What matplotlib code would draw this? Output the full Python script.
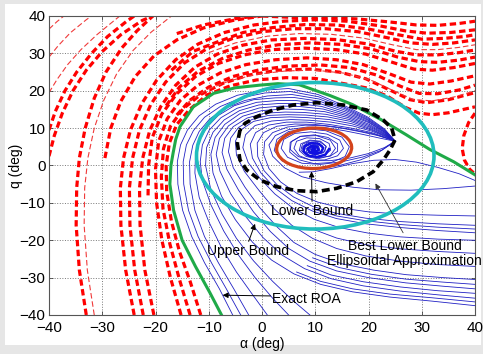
import matplotlib
matplotlib.use('Agg')
import matplotlib.pyplot as plt
from matplotlib.patches import Ellipse, Rectangle

plt.rcParams['font.family'] = ['Liberation Sans', 'DejaVu Sans']

# ---------------- data (alpha, q) in degrees ----------------
# trajectories leaving the region of attraction (red dashed)
red_edge_1 = [(-40, 2.5), (-39, 8), (-37.5, 14), (-35.5, 20), (-33, 25.5), (-30, 30.5), (-26.5, 35), (-22.5, 38.8), (-20.5, 40)]
red_edge_2 = [(-40, 9.5), (-38.8, 14.5), (-37, 20), (-34.8, 25), (-32, 30), (-29, 34.5), (-25.5, 38.5), (-24, 40)]
red_edge_3 = [(-40, 19.5), (-38.5, 23), (-36.5, 27), (-34, 31), (-31, 35), (-28, 38.5), (-26.7, 40)]
red_edge_4 = [(-40, 29), (-38.3, 32), (-36, 35.5), (-33, 39), (-32, 40)]
red_edge_5 = [(-40, 36.5), (-38.5, 38.5), (-37.2, 40)]

red_arc_1 = [(-33, -40), (-34.3, -28), (-34.9, -16), (-34.8, -6), (-34.3, 2), (-33.2, 10), (-31.5, 18),
             (-29.3, 25), (-26.3, 31.5), (-23.5, 36), (-20.5, 40)]
red_arc_2 = [(-31.5, -40), (-32.8, -28), (-33.4, -16), (-33.3, -6), (-32.7, 2), (-31.5, 10), (-29.7, 17.5),
             (-27.3, 24.5), (-24.2, 30.8), (-20.8, 35.7), (-17, 40)]
red_arc_3 = [(-29.5, 2), (-28.4, 10), (-26.5, 17.2), (-23.8, 23.8), (-20.3, 29.3), (-16, 33.6), (-11, 36.8),
             (-5.5, 38.8), (0, 40)]
red_arc_4 = [(-24, -40), (-25.6, -28), (-26.5, -16), (-26.6, -6), (-26, 2), (-24.7, 9.5), (-22.6, 16.5),
             (-19.8, 22.8), (-16.2, 28.3), (-12, 32.5), (-7, 35.6), (-1.5, 37.6), (4, 38.6), (10, 39),
             (16, 38.6), (22, 37.4), (27, 36), (31, 35.4), (35.5, 35.6), (40, 36.3)]
red_arc_5 = [(-22.3, -40), (-23.9, -28), (-24.8, -16), (-24.9, -6), (-24.3, 2), (-23, 9.5), (-20.9, 16.3),
             (-18.1, 22.3), (-14.5, 27.5), (-10.3, 31.3), (-5.5, 34), (0, 35.8), (6, 36.6), (12, 36.6),
             (18, 35.8), (23.5, 34.2), (28, 32.8), (32, 32.4), (36, 32.8), (40, 33.6)]
red_arc_6 = [(-20.3, -40), (-22, -28), (-22.9, -16), (-23, -6), (-22.4, 2), (-21.1, 9.3), (-19, 15.8),
             (-16.2, 21.5), (-12.6, 26.3), (-8.4, 29.8), (-3.6, 32.2), (1.8, 33.6), (8, 34), (14, 33.7),
             (20, 32.5), (25, 30.6), (29, 29.6), (33, 29.6), (37, 30.2), (40, 30.9)]
red_arc_7 = [(-21.4, -8), (-21.3, 0), (-20.6, 7.5), (-18.8, 13.8), (-16, 19.2), (-12.5, 23.8), (-8.2, 27.3),
             (-3.3, 29.6), (2, 31), (8, 31.4), (14, 31), (19.5, 29.8), (24.5, 27.6), (28.5, 25.8),
             (32, 25.5), (36, 26.2), (40, 27.3)]
red_arc_8 = [(-15.2, -40), (-17.2, -30), (-18.8, -20), (-19.8, -10), (-20, -1), (-19.4, 6.5), (-17.8, 12.5),
             (-15.3, 17.5), (-12, 21.5), (-7.8, 24.8), (-3, 27), (2.5, 28.3), (8.5, 28.8), (14, 28.3),
             (19, 27), (24, 24.5), (28, 22.3), (31.5, 21.8), (35.5, 22.6), (40, 24)]
red_arc_9 = [(-13.5, -40), (-15.5, -30.5), (-17.3, -21), (-18.6, -11.5), (-18.9, -3), (-18.5, 4.5),
             (-17.2, 10.5), (-14.8, 15.2), (-11.5, 19), (-7.3, 22), (-2.5, 24.2), (3, 25.5), (9, 25.8),
             (14.5, 25), (19.5, 23.2), (24, 20.2), (27.8, 17.6), (31, 16.8), (35, 17.6), (40, 19.5)]
red_arc_10 = [(-11.5, -40), (-13.5, -31), (-15.5, -23), (-17, -15), (-17.9, -7), (-18, 0), (-17.4, 6),
              (-16, 11), (-13.6, 15), (-10.3, 18.9), (-6, 21.3), (-1, 22.9), (4.5, 23.5), (10, 23.3),
              (15, 22), (19.5, 20.8), (23.5, 18.6), (27, 15.5), (29.5, 14), (32, 13.6), (35, 14.1), (40, 15.7)]
red_band_a = [(-16, 13.5), (-13.5, 17.5), (-10, 21), (-5.5, 23.8), (-0.5, 25.6), (5, 26.6), (11, 26.9),
              (16.5, 26.2), (21.5, 24.2), (26, 21.2), (29.5, 19.3), (33, 19.2), (37, 20.2), (40, 21.5)]
red_band_b = [(-18, 16), (-15.5, 21), (-12, 25.2), (-7.5, 28.6), (-2.5, 30.9), (3, 32.3), (9, 32.8),
              (15, 32.4), (20.5, 31.2), (25.5, 29), (29.5, 27.8), (33, 27.6), (37, 28.2), (40, 29)]
red_band_c = [(-17, 25.5), (-13, 30.5), (-8.5, 33), (-3.5, 35.6), (2, 36.9), (8, 37.7), (14, 37.6),
              (20, 36.5), (25.5, 35), (30, 33.8), (34, 34), (38, 34.5), (40, 35)]
red_band_d = [(-16, 35.3), (-11, 37.6), (-5, 39.3), (-1, 40)]
red_top = [(0, 40), (6, 39.6), (12, 39.6), (18, 39.2), (24, 38.4), (29, 37.6), (33, 37.5), (37, 38), (40, 38.6)]
red_right = [(40, 14), (38.8, 11.5), (37.9, 8), (37.6, 4.5), (38, 1.5), (39, -1), (40, -2.3)]
red_thin_a = [(-14, 16.8), (-10.5, 20.2), (-6, 22.7), (-1, 24.4), (4.5, 25.3), (10, 25.5), (15.5, 24.7),
              (20.5, 22.8), (25, 19.8), (28.5, 17.6), (32, 17.3), (36, 18.3), (40, 20)]
red_thin_b = [(-10, 30.2), (-5, 32.8), (1, 34.6), (7, 35.3), (13, 35.1), (19, 34.1), (24.5, 32.3),
              (29, 31), (33, 31), (37, 31.6), (40, 32.3)]

red_thick = [red_edge_1, red_edge_2, red_arc_1, red_arc_3, red_arc_4, red_arc_5, red_arc_6,
             red_arc_7, red_arc_8, red_arc_9, red_arc_10, red_band_a, red_band_b, red_band_c,
             red_band_d, red_top, red_right]
red_thin = [red_edge_3, red_edge_4, red_edge_5, red_arc_2, red_thin_a, red_thin_b]

# converging trajectories (blue)
blue_c1 = [(-5.5, -40), (-8, -33), (-10.8, -26), (-13.2, -19), (-14.9, -12), (-15.8, -5), (-15.9, 1),
           (-15.3, 5.5), (-14, 9.5), (-11.8, 13.3), (-8.7, 16.4), (-4.6, 18.8), (0, 20.1), (5, 20.6),
           (10.5, 19), (15.5, 16), (19.8, 13), (23, 9.8), (25, 6.5)]
blue_c2 = [(-4, -40), (-6.7, -33), (-9.5, -26), (-12, -19), (-13.8, -12), (-14.7, -5), (-14.8, 1),
           (-14.2, 5.5), (-12.9, 9.3), (-10.8, 12.9), (-7.8, 15.8), (-3.9, 18.1), (0.5, 19.4), (5.3, 19.8),
           (10.6, 18.4), (15.5, 15.6), (19.8, 12.7), (23, 9.6), (25, 6.5)]
blue_c3 = [(-2.5, -40), (-5.3, -33), (-8.2, -26), (-10.8, -19), (-12.6, -12), (-13.5, -5), (-13.6, 1),
           (-13, 5.4), (-11.8, 9.1), (-9.8, 12.5), (-6.9, 15.3), (-3.2, 17.4), (1, 18.6), (5.6, 19),
           (10.7, 17.8), (15.6, 15.2), (19.8, 12.4), (23, 9.4), (25, 6.5)]
blue_d1 = [(1, -40), (-1.8, -34.5), (-4.8, -28.5), (-7.6, -22), (-10, -15), (-11.8, -8.5), (-12.6, -2),
           (-12.5, 2.5), (-11.8, 6.5), (-10.4, 10.2), (-8.2, 13.4), (-5.2, 16), (-1.6, 17.6), (2.5, 18.1),
           (6, 18.2), (10.8, 17.2), (15.6, 14.8), (19.9, 12.1), (23, 9.2), (25, 6.5)]
blue_d2 = [(5, -40), (2, -35.5), (-1.3, -30), (-4.4, -24), (-7.2, -17.5), (-9.6, -10.5), (-11.2, -4),
           (-11.6, 1), (-11.2, 5.5), (-9.9, 9.5), (-7.7, 12.8), (-4.7, 15.3), (-1, 16.9), (3, 17.4),
           (6.3, 17.4), (11, 16.5), (15.7, 14.3), (19.9, 11.8), (23, 9), (25, 6.5)]
blue_d3 = [(9, -40), (5.7, -36), (2, -31), (-1.6, -25.5), (-4.8, -19.5), (-7.5, -13), (-9.6, -6.5),
           (-10.6, 0), (-10.4, 4.8), (-9.2, 8.9), (-7.1, 12.2), (-4.2, 14.7), (-0.6, 16.2), (3.3, 16.6),
           (6.6, 16.6), (11.2, 15.8), (15.8, 13.8), (20, 11.5), (23.1, 8.8), (25, 6.5)]
blue_c4 = [(40, -37.5), (32, -36.3), (24, -35.2), (17, -33.8), (11, -31.8), (6, -29), (1.8, -25.3),
           (-1.8, -20.5), (-5, -14.5), (-7.6, -8.2), (-9.2, -2), (-9.6, 3), (-8.8, 7.5), (-7, 11),
           (-4.2, 13.8), (-0.5, 15.4), (3.5, 15.9), (7, 15.8), (11.5, 15.1), (16, 13.3), (20, 11.1),
           (23.1, 8.6), (25, 6.5)]
blue_c5 = [(40, -35.5), (33, -34.6), (26, -33.6), (19, -32.2), (13, -30.3), (8, -27.6), (3.8, -24),
           (0.2, -19.3), (-3.1, -13.6), (-5.9, -7.5), (-7.9, -1.5), (-8.6, 3), (-8, 7.2), (-6.3, 10.6),
           (-3.6, 13.2), (0, 14.7), (4, 15.1), (7.4, 15), (11.8, 14.4), (16.2, 12.8), (20.1, 10.7),
           (23.1, 8.4), (25, 6.5)]
blue_c6 = [(40, -33), (34, -32.3), (27, -31.4), (20, -30), (14, -28.2), (9, -25.6), (5, -22.2),
           (1.6, -17.7), (-1.6, -12.4), (-4.4, -6.6), (-6.6, -1), (-7.5, 3.5), (-7, 7.3), (-5.4, 10.4),
           (-2.8, 12.7), (0.6, 14), (4.4, 14.3), (7.8, 14.2), (12, 13.7), (16.4, 12.3), (20.2, 10.3),
           (23.2, 8.2), (25, 6.5)]
blue_c7 = [(40, -30.5), (34, -30), (27, -29.2), (21, -28), (15, -26.3), (10, -23.8), (6, -20.6),
           (2.8, -16.4), (-0.4, -11.3), (-3.2, -5.8), (-5.4, -0.6), (-6.3, 3.7), (-5.9, 7.3), (-4.4, 10.2),
           (-1.9, 12.3), (1.2, 13.4), (4.8, 13.6), (8.2, 13.5), (12.3, 13), (16.6, 11.8), (20.3, 9.9),
           (23.2, 8), (25, 6.5)]
blue_c8 = [(40, -27), (33, -26.5), (26, -25.6), (19.5, -24.2), (14, -22.2), (9.5, -19.5), (5.6, -16),
           (2.3, -11.6), (-0.6, -6.6), (-3.3, -1.6), (-4.8, 2.8), (-5, 6.5), (-3.9, 9.6), (-1.6, 11.8),
           (1.6, 12.8), (5.2, 13), (8.6, 12.8), (12.6, 12.3), (16.8, 11.2), (20.4, 9.6), (23.3, 7.8), (25, 6.5)]
blue_c9 = [(40, -20), (33, -19.7), (26, -19.1), (20, -18.1), (14.5, -16.6), (9.8, -14.4), (5.8, -11.4),
           (2.4, -7.6), (-0.4, -3.4), (-2.6, 0.8), (-3.6, 4.8), (-3.1, 8.2), (-1.3, 10.7), (1.8, 11.9),
           (5.5, 12.3), (9, 12.1), (13, 11.6), (17, 10.6), (20.6, 9.2), (23.4, 7.6), (25, 6.5)]
blue_c10 = [(40, -18), (33, -17.4), (26, -16.6), (19.5, -15.6), (14, -14.2), (9.5, -12.2), (5.6, -9.4),
            (2.4, -6), (-0.2, -2), (-1.8, 2), (-2.2, 5.7), (-1.2, 8.8), (1.2, 10.8), (4.6, 11.6),
            (8.4, 11.6), (12.6, 11), (16.8, 10), (20.6, 8.8), (23.4, 7.4), (25, 6.5)]
blue_c11 = [(40, -16), (33, -15.6), (26, -15), (19.5, -14.1), (14, -12.8), (9.6, -11), (5.9, -8.4),
            (2.8, -5.1), (0.4, -1.4), (-0.8, 2.4), (-0.9, 6), (0.3, 8.8), (2.8, 10.5), (6.2, 11.1),
            (9.8, 11), (13.6, 10.4), (17.3, 9.5), (20.8, 8.5), (23.5, 7.3), (25, 6.5)]
blue_c12 = [(40, -13.5), (33, -13.3), (26, -13), (20, -12.4), (15, -11.4), (10.5, -9.8), (6.6, -7.5),
            (3.5, -4.4), (1.3, -0.8), (0.3, 3), (0.5, 6.4), (2, 8.8), (4.8, 10.3), (8.2, 10.8),
            (11.8, 10.6), (15.3, 9.9), (18.6, 9), (21.8, 8), (25, 6.5)]
blue_c13 = [(40, -5.5), (34, -6.2), (28, -6.6), (22, -6.5), (17, -5.8), (12, -4.6), (7.5, -3), (4.2, -0.6),
            (2, 2.5), (1.3, 5.5), (2.5, 8), (5, 9.6), (8.5, 10.3), (12, 10.1), (15.5, 9.3), (19, 8.3),
            (22.2, 7.3), (25, 6.5)]
blue_hump = [(40, -4), (37, -2.2), (33, -0.5), (29, 0.9), (25, 1.6), (21, 1.4), (17, 0.5), (13, -0.8),
             (9.5, -1.7), (7, -1.8)]
# short entries from the right edge that merge into the bundle
blue_e1 = [(40, -36.5), (32, -35.4), (24, -34.4), (17, -33), (11, -31), (6.5, -28.5)]
blue_e2 = [(40, -34.2), (33, -33.5), (26, -32.5), (19, -31.1), (13, -29.3), (8.5, -26.8)]
blue_e3 = [(40, -31.8), (34, -31.2), (27, -30.4), (20.5, -29.1), (14.5, -27.3), (9.5, -24.7)]
blue_e4 = [(40, -23.5), (33, -23), (26, -22.3), (19.5, -21.2), (14, -19.4), (9.5, -17)]
blue_e5 = [(40, -17), (33, -16.5), (26, -15.8), (19.5, -14.8), (14, -13.5), (9.5, -11.6)]

blue_spiral_1 = [(25, 6.5), (22, 3.6), (18.5, 1.5), (14.5, 0), (10.5, -0.8), (6.8, -0.4), (3.8, 1.2),
                 (2.3, 4), (2.8, 7), (5, 9.1), (8.5, 9.8), (12, 9.3), (15, 7.6), (16.4, 5), (15.6, 2.4),
                 (13, 0.8), (9.8, 0.5), (7, 1.5), (5.2, 3.6), (5.3, 6.2), (7.2, 7.8), (10.2, 8), (12.8, 6.8),
                 (13.8, 4.6), (12.8, 2.6), (10.5, 1.8), (8.3, 2.4), (7, 4), (7.3, 5.8), (9, 6.8), (11, 6.5),
                 (12.1, 5), (11.5, 3.4), (9.8, 2.8), (8.4, 3.6), (8.2, 5), (9.3, 5.8), (10.6, 5.3),
                 (10.8, 4), (9.8, 3.3), (8.9, 3.9), (9.2, 4.8), (10, 4.6), (10, 3.9), (9.4, 3.9)]
blue_spiral_2 = [(25, 6.5), (22.5, 4.1), (19, 2.3), (15, 1), (11, 0.3), (7.5, 0.6), (4.8, 2.2), (3.6, 4.6),
                 (4.1, 7), (6.2, 8.6), (9.2, 9), (12.2, 8.4), (14.6, 6.8), (15.3, 4.6), (14.2, 2.6),
                 (11.8, 1.5), (9.2, 1.4), (7, 2.6), (6, 4.6), (6.5, 6.5), (8.4, 7.4), (10.8, 7.2),
                 (12.6, 5.9), (12.9, 4.1), (11.7, 2.7), (9.7, 2.3), (8, 3.2), (7.5, 4.8), (8.5, 6.1),
                 (10.2, 6.3), (11.4, 5.2), (11.3, 3.8), (10.1, 3), (8.8, 3.4), (8.4, 4.6), (9.2, 5.4),
                 (10.3, 5.1), (10.5, 4.1), (9.7, 3.6), (9.1, 4.2), (9.6, 4.7)]
blue_spiral_3 = [(25, 6.5), (23, 4.8), (20, 3.2), (16.5, 2), (12.8, 1.3), (9.5, 1.3), (6.8, 2.4), (5.3, 4.3),
                 (5.5, 6.4), (7.2, 7.8), (9.8, 8.2), (12.4, 7.5), (14.2, 5.8), (14.2, 3.8), (12.8, 2.5),
                 (10.6, 2.1), (8.5, 2.6), (7.3, 4.1), (7.6, 5.7), (9, 6.6), (10.8, 6.4), (12, 5.2),
                 (11.8, 3.7), (10.5, 3), (9.1, 3.4), (8.6, 4.6), (9.4, 5.5), (10.6, 5.2), (10.8, 4.2),
                 (10, 3.7), (9.3, 4.2), (9.7, 4.8)]
blue_core = [(12.6, 4.4), (11.9, 2.9), (10.4, 2.3), (8.8, 2.6), (7.8, 3.8), (8, 5.2), (9.2, 6), (10.7, 5.8),
             (11.5, 4.7), (11.1, 3.6), (10, 3.1), (9, 3.5), (8.6, 4.5), (9.3, 5.2), (10.3, 5), (10.6, 4.2),
             (10, 3.7), (9.4, 4), (9.5, 4.6), (9.9, 4.4)]

blue_curves = [blue_c1, blue_c2, blue_c3, blue_d1, blue_d2, blue_d3, blue_c4, blue_c5, blue_c6, blue_c7,
               blue_c8, blue_c9, blue_c10, blue_c11, blue_c12, blue_c13, blue_hump,
               blue_e1, blue_e2, blue_e3, blue_e4, blue_e5,
               blue_spiral_1, blue_spiral_2, blue_spiral_3]

# exact region of attraction boundary (green)
exact_roa = [(-7.6, -40), (-9.8, -34), (-12.5, -27), (-15, -20), (-16.6, -12), (-17.3, -5), (-17.1, 0),
             (-16.7, 3.3), (-16.2, 7), (-15.4, 10.4), (-12.9, 15.7), (-9.1, 19.3), (-5, 20.8), (-0.4, 21.5),
             (3, 21.9), (7, 21.6), (12.8, 18.7), (17, 16.3), (22.2, 12.4), (27, 8.3), (31.5, 4.3),
             (36, 1), (40, -2.5)]

# best lower bound (black dashed level set)
best_lower = [(-4.13, 9.5), (-4.63, 5.93), (-4.13, 1.47), (-2.88, -1.2), (-0.38, -3.88), (2.76, -5.67),
              (6.52, -6.74), (10.27, -7.0), (14.03, -6.1), (17.78, -4.33), (20.9, -1.65), (22.78, 1.47),
              (24.04, 4.15), (24.98, 6.82), (24.36, 9.95), (22.78, 12.17), (19.66, 14.85), (15.27, 16.19),
              (10.27, 16.8), (5.88, 16.19), (2.12, 14.85), (-1.0, 13.06), (-3.19, 11.28), (-4.13, 9.5)]

# ellipses: centre (alpha, q), width, height, angle
upper_center, upper_w, upper_h = (10.0, 2.6), 44.6, 39.2
lower_center, lower_w, lower_h, lower_angle = (9.8, 4.6), 14.1, 10.8, 4

x_ticks = [-40, -30, -20, -10, 0, 10, 20, 30, 40]
y_ticks = [-40, -30, -20, -10, 0, 10, 20, 30, 40]

# ---------------- figure ----------------
fig = plt.figure(figsize=(4.83, 3.54), dpi=100, facecolor='#e6e6e6')
fig.add_artist(Rectangle((5 / 483, 9 / 354), 476 / 483, 341 / 354, transform=fig.transFigure,
                         facecolor='white', edgecolor='none', zorder=-1))
ax = fig.add_axes([49 / 483, 1 - 315 / 354, 426 / 483, 299 / 354])
ax.set_facecolor('white')

for pts in red_thick:
    a, q = zip(*pts)
    ax.plot(a, q, color='#ff0000', lw=2.3, dashes=(2.0, 1.1), dash_capstyle='butt', zorder=2)
for pts in red_thin:
    a, q = zip(*pts)
    ax.plot(a, q, color='#f03a3a', lw=0.8, dashes=(5, 2.5), zorder=2)

for pts in blue_curves:
    a, q = zip(*pts)
    ax.plot(a, q, color='#2020c4', lw=0.6, zorder=3)
a, q = zip(*blue_core)
ax.plot(a, q, color='#1010e0', lw=1.8, zorder=3)

a, q = zip(*exact_roa)
ax.plot(a, q, color='#1faa48', lw=2.2, zorder=4)

ax.add_patch(Ellipse(upper_center, upper_w, upper_h, fill=False, ec='#20bdbd', lw=2.6, zorder=5))

a, q = zip(*best_lower)
ax.plot(a, q, color='black', lw=2.6, dashes=(2.2, 1.2), zorder=6)

ax.add_patch(Ellipse(lower_center, lower_w, lower_h, angle=lower_angle, fill=False, ec='#d4441c',
                     lw=2.3, zorder=7))

# labels and their arrows
arrow = dict(arrowstyle='-|>', color='black', lw=0.7, mutation_scale=8, shrinkA=0, shrinkB=0)
ax.text(9.4, -12.1, 'Lower Bound', ha='center', va='center', fontsize=10, zorder=8)
ax.annotate('', xy=(9.3, -1.6), xytext=(9.4, -9.6), arrowprops=arrow, zorder=8)
ax.text(-2.7, -23.0, 'Upper Bound', ha='center', va='center', fontsize=10, zorder=8)
ax.annotate('', xy=(-1.3, -15.6), xytext=(-2.5, -20.3), arrowprops=arrow, zorder=8)
ax.text(26.8, -23.5, 'Best Lower Bound\nEllipsoidal Approximation', ha='center', va='center',
        fontsize=10, linespacing=1.15, zorder=8)
ax.annotate('', xy=(21.3, -4.8), xytext=(26.5, -18.0),
            arrowprops=dict(arrow, color='#333333', lw=0.6), zorder=8)
ax.text(8.3, -35.7, 'Exact ROA', ha='center', va='center', fontsize=10, zorder=8)
ax.annotate('', xy=(-7.4, -34.7), xytext=(1.6, -34.9), arrowprops=arrow, zorder=8)

ax.set_xlim(-40, 40)
ax.set_ylim(-40, 40)
ax.set_xticks(x_ticks)
ax.set_yticks(y_ticks)
ax.tick_params(direction='in', length=3, width=0.6, labelsize=11, top=True, right=True,
               color='#444444')
ax.tick_params(axis='x', pad=4)
ax.tick_params(axis='y', pad=2.5)
ax.grid(True, linestyle=':', color='#777777', lw=0.7)
ax.set_axisbelow(True)
for s in ax.spines.values():
    s.set_color('#555555')
    s.set_linewidth(0.8)

ax.set_xlabel('α (deg)', fontsize=10)
ax.set_ylabel('q (deg)', fontsize=10)
ax.xaxis.set_label_coords(0.5, -0.072)
ax.yaxis.set_label_coords(-0.062, 0.5)

fig.savefig('out.png', dpi=100, facecolor=fig.get_facecolor())
